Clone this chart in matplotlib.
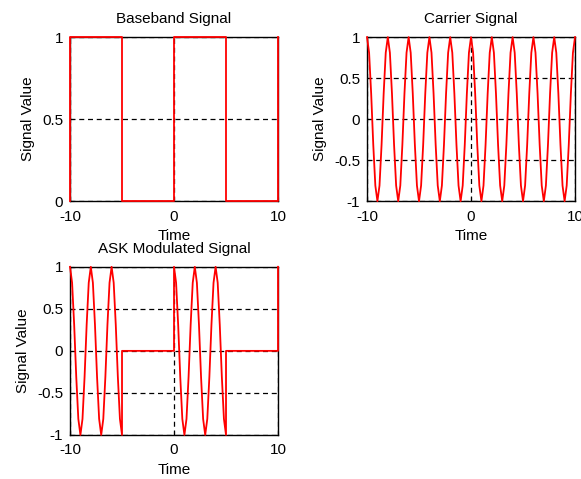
import numpy as np
import matplotlib.pyplot as plt

plt.rcParams['font.family'] = ['Liberation Sans', 'DejaVu Sans']
plt.rcParams['axes.unicode_minus'] = False

# time axis of the sampled signals (-10 .. 10, step 0.2)
time = np.linspace(-10, 10, 101)

# carrier samples (one cycle every 2 time units)
carrier = np.array([
    1.0, 0.81, 0.31, -0.31, -0.81, -1.0, -0.81, -0.31, 0.31, 0.81,
    1.0, 0.81, 0.31, -0.31, -0.81, -1.0, -0.81, -0.31, 0.31, 0.81,
    1.0, 0.81, 0.31, -0.31, -0.81, -1.0, -0.81, -0.31, 0.31, 0.81,
    1.0, 0.81, 0.31, -0.31, -0.81, -1.0, -0.81, -0.31, 0.31, 0.81,
    1.0, 0.81, 0.31, -0.31, -0.81, -1.0, -0.81, -0.31, 0.31, 0.81,
    1.0, 0.81, 0.31, -0.31, -0.81, -1.0, -0.81, -0.31, 0.31, 0.81,
    1.0, 0.81, 0.31, -0.31, -0.81, -1.0, -0.81, -0.31, 0.31, 0.81,
    1.0, 0.81, 0.31, -0.31, -0.81, -1.0, -0.81, -0.31, 0.31, 0.81,
    1.0, 0.81, 0.31, -0.31, -0.81, -1.0, -0.81, -0.31, 0.31, 0.81,
    1.0, 0.81, 0.31, -0.31, -0.81, -1.0, -0.81, -0.31, 0.31, 0.81,
    1.0,
])

# baseband bits
bit_edges = [-10, -5, 0, 5, 10]
bit_levels = [1, 0, 1, 0]
end_level = 1

titles = ['Baseband Signal', 'Carrier Signal', 'ASK Modulated Signal']
x_ticks = [-10, 0, 10]
x_ticklabels = ['-10', '0', '10']
base_yticks = [0, 0.5, 1]
base_yticklabels = ['0', '0.5', '1']
wave_yticks = [-1, -0.5, 0, 0.5, 1]
wave_yticklabels = ['-1', '-0.5', '0', '0.5', '1']

# baseband trace as a step signal
bx, by = [bit_edges[0]], [0]
for lo, hi, lev in zip(bit_edges[:-1], bit_edges[1:], bit_levels):
    bx += [lo, hi]
    by += [lev, lev]
bx.append(bit_edges[-1])
by.append(end_level)

# ASK: carrier where bit is 1, zero where bit is 0
kx, ky = [], []
for lo, hi, lev in zip(bit_edges[:-1], bit_edges[1:], bit_levels):
    if lev:
        m = (time >= lo - 1e-9) & (time <= hi + 1e-9)
        kx += list(time[m])
        ky += list(carrier[m])
    else:
        kx += [lo, hi]
        ky += [0, 0]
kx.append(bit_edges[-1])
ky.append(end_level * carrier[-1])

fig = plt.figure(figsize=(5.81, 4.79), dpi=100)
ax1 = fig.add_axes([0.1205, 0.58, 0.358, 0.3425])
ax2 = fig.add_axes([0.6317, 0.58, 0.358, 0.3425])
ax3 = fig.add_axes([0.1205, 0.092, 0.358, 0.351])

panels = [
    (ax1, bx, by, base_yticks, base_yticklabels, (0, 1)),
    (ax2, time, carrier, wave_yticks, wave_yticklabels, (-1, 1)),
    (ax3, kx, ky, wave_yticks, wave_yticklabels, (-1, 1)),
]

for (ax, x, y, yt, ytl, ylim), title in zip(panels, titles):
    ax.plot(x, y, color='red', lw=1.3, zorder=3, clip_on=False)
    ax.set_xlim(-10, 10)
    ax.set_ylim(*ylim)
    ax.set_xticks(x_ticks)
    ax.set_xticklabels(x_ticklabels)
    ax.set_yticks(yt)
    ax.set_yticklabels(ytl)
    ax.grid(True, color='black', linestyle=(0, (4, 3)), lw=0.9)
    ax.set_axisbelow(True)
    ax.tick_params(direction='in', length=3, labelsize=11)
    ax.tick_params(axis='x', pad=6)
    ax.tick_params(axis='y', pad=5)
    for s in ax.spines.values():
        s.set_linewidth(1.0)
    ax.set_title(title, fontsize=11, pad=10)
    ax.set_xlabel('Time', fontsize=11, labelpad=4)
    ax.set_ylabel('Signal Value', fontsize=11, labelpad=5)

fig.savefig('out.png', dpi=100)
